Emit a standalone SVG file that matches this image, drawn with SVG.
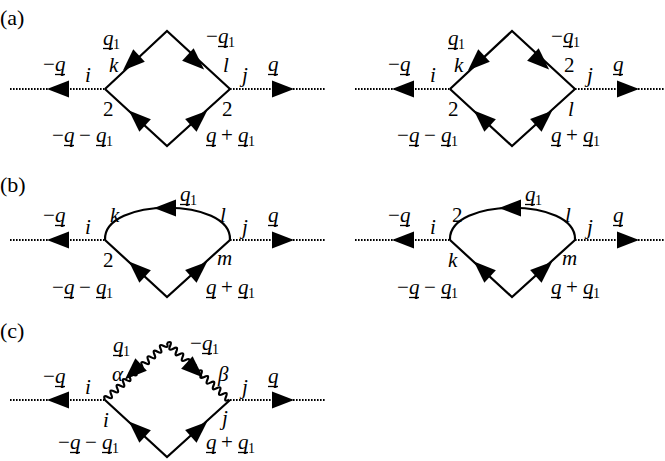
<svg xmlns="http://www.w3.org/2000/svg" width="665" height="461" viewBox="0 0 665 461">
<defs>
<path id="ar" d="M11,0 L-11,-8.5 L-11,8.5 Z" fill="#000"/>
<g id="ext">
<line stroke="#000" stroke-width="2.2" stroke-dasharray="1.6,1.4" x1="10" y1="0" x2="105" y2="0"/>
<line stroke="#000" stroke-width="2.2" stroke-dasharray="1.6,1.4" x1="230" y1="0" x2="325" y2="0"/>
<use href="#ar" transform="translate(58,0) rotate(180)"/>
<use href="#ar" transform="translate(283,0)"/>
</g>
<g id="bot">
<path stroke="#000" stroke-width="2.2" fill="none" d="M105,0 L167,57 L230,0"/>
<use href="#ar" transform="translate(137,29) rotate(222.6)"/>
<use href="#ar" transform="translate(199,29) rotate(-42.1)"/>
</g>
<path id="wave" stroke="#000" stroke-width="2.2" fill="none" d="M0,0 q2.1,-6 4.2,0 t4.2,0 t4.2,0 t4.2,0 t4.2,0 t4.2,0 t4.2,0 t4.2,0 t4.2,0 t4.2,0 t4.2,0 t4.2,0 t4.2,0 t4.2,0 t4.2,0 t4.2,0 t4.2,0 t4.2,0 t4.2,0 t4.2,0"/>
</defs>
<g font-family="Liberation Serif" font-size="22"><text x="0" y="25">(a)</text><text x="0" y="192">(b)</text><text x="0" y="338">(c)</text></g>

<g id="a1">
<use href="#ext" transform="translate(0,89)"/>
<path stroke="#000" stroke-width="2.2" fill="none" d="M105,89 L167,31 L230,89"/>
<use href="#ar" transform="translate(131,63) rotate(136.9)"/>
<use href="#ar" transform="translate(196,62) rotate(42.6)"/>
<use href="#bot" transform="translate(0,89)"/>
<g font-family="Liberation Serif" font-size="21" font-style="italic">
<text x="103" y="45">q</text><text x="113" y="49" font-size="14" font-style="normal">1</text><line x1="103" y1="48.5" x2="113" y2="48.5" stroke="#000" stroke-width="1.3"/>
<text x="206" y="43" font-style="normal">−</text><text x="218" y="43">q</text><text x="228" y="47" font-size="14" font-style="normal">1</text><line x1="218" y1="46.5" x2="228" y2="46.5" stroke="#000" stroke-width="1.3"/>
<text x="109" y="72">k</text><text x="223" y="72">l</text><text x="85" y="82">i</text><text x="242" y="82">j</text>
<text x="43" y="71" font-style="normal">−</text><text x="55" y="71">q</text><line x1="55" y1="74.5" x2="65" y2="74.5" stroke="#000" stroke-width="1.3"/>
<text x="268" y="71">q</text><line x1="268" y1="74.5" x2="278" y2="74.5" stroke="#000" stroke-width="1.3"/>
<text x="103" y="116" font-style="normal">2</text><text x="222" y="116" font-style="normal">2</text>
<text x="52" y="142" font-style="normal">−</text><text x="64" y="142">q</text><text x="79" y="142" font-style="normal">−</text><text x="96" y="142">q</text><text x="106" y="146" font-size="14" font-style="normal">1</text><line x1="64" y1="145.5" x2="74" y2="145.5" stroke="#000" stroke-width="1.3"/><line x1="96" y1="145.5" x2="106" y2="145.5" stroke="#000" stroke-width="1.3"/>
<text x="206" y="142">q</text><text x="221" y="142" font-style="normal">+</text><text x="238" y="142">q</text><text x="248" y="146" font-size="14" font-style="normal">1</text><line x1="206" y1="145.5" x2="216" y2="145.5" stroke="#000" stroke-width="1.3"/><line x1="238" y1="145.5" x2="248" y2="145.5" stroke="#000" stroke-width="1.3"/>
</g>
</g>
<g id="a2" transform="translate(345,0)">
<use href="#ext" transform="translate(0,89)"/>
<path stroke="#000" stroke-width="2.2" fill="none" d="M105,89 L167,31 L230,89"/>
<use href="#ar" transform="translate(131,63) rotate(136.9)"/>
<use href="#ar" transform="translate(196,62) rotate(42.6)"/>
<use href="#bot" transform="translate(0,89)"/>
<g font-family="Liberation Serif" font-size="21" font-style="italic">
<text x="103" y="45">q</text><text x="113" y="49" font-size="14" font-style="normal">1</text><line x1="103" y1="48.5" x2="113" y2="48.5" stroke="#000" stroke-width="1.3"/>
<text x="206" y="43" font-style="normal">−</text><text x="218" y="43">q</text><text x="228" y="47" font-size="14" font-style="normal">1</text><line x1="218" y1="46.5" x2="228" y2="46.5" stroke="#000" stroke-width="1.3"/>
<text x="109" y="72">k</text><text x="219" y="72" font-style="normal">2</text><text x="85" y="82">i</text><text x="242" y="82">j</text>
<text x="43" y="71" font-style="normal">−</text><text x="55" y="71">q</text><line x1="55" y1="74.5" x2="65" y2="74.5" stroke="#000" stroke-width="1.3"/>
<text x="268" y="71">q</text><line x1="268" y1="74.5" x2="278" y2="74.5" stroke="#000" stroke-width="1.3"/>
<text x="103" y="116" font-style="normal">2</text><text x="223" y="116">l</text>
<text x="52" y="142" font-style="normal">−</text><text x="64" y="142">q</text><text x="79" y="142" font-style="normal">−</text><text x="96" y="142">q</text><text x="106" y="146" font-size="14" font-style="normal">1</text><line x1="64" y1="145.5" x2="74" y2="145.5" stroke="#000" stroke-width="1.3"/><line x1="96" y1="145.5" x2="106" y2="145.5" stroke="#000" stroke-width="1.3"/>
<text x="206" y="142">q</text><text x="221" y="142" font-style="normal">+</text><text x="238" y="142">q</text><text x="248" y="146" font-size="14" font-style="normal">1</text><line x1="206" y1="145.5" x2="216" y2="145.5" stroke="#000" stroke-width="1.3"/><line x1="238" y1="145.5" x2="248" y2="145.5" stroke="#000" stroke-width="1.3"/>
</g>
</g>
<g id="b1">
<use href="#ext" transform="translate(0,240)"/>
<path stroke="#000" stroke-width="2.2" fill="none" d="M105,240 C103,197 232,197 230,240"/>
<use href="#ar" transform="translate(165,208) rotate(180)"/>
<use href="#bot" transform="translate(0,240)"/>
<g font-family="Liberation Serif" font-size="21" font-style="italic">
<text x="180" y="201">q</text><text x="190" y="205" font-size="14" font-style="normal">1</text><line x1="180" y1="204.5" x2="190" y2="204.5" stroke="#000" stroke-width="1.3"/>
<text x="110" y="222">k</text><text x="220" y="222">l</text><text x="85" y="234">i</text><text x="242" y="234">j</text>
<text x="43" y="222" font-style="normal">−</text><text x="55" y="222">q</text><line x1="55" y1="225.5" x2="65" y2="225.5" stroke="#000" stroke-width="1.3"/>
<text x="268" y="222">q</text><line x1="268" y1="225.5" x2="278" y2="225.5" stroke="#000" stroke-width="1.3"/>
<text x="103" y="267" font-style="normal">2</text><text x="217" y="265">m</text>
<text x="52" y="294" font-style="normal">−</text><text x="64" y="294">q</text><text x="79" y="294" font-style="normal">−</text><text x="96" y="294">q</text><text x="106" y="298" font-size="14" font-style="normal">1</text><line x1="64" y1="297.5" x2="74" y2="297.5" stroke="#000" stroke-width="1.3"/><line x1="96" y1="297.5" x2="106" y2="297.5" stroke="#000" stroke-width="1.3"/>
<text x="206" y="294">q</text><text x="221" y="294" font-style="normal">+</text><text x="238" y="294">q</text><text x="248" y="298" font-size="14" font-style="normal">1</text><line x1="206" y1="297.5" x2="216" y2="297.5" stroke="#000" stroke-width="1.3"/><line x1="238" y1="297.5" x2="248" y2="297.5" stroke="#000" stroke-width="1.3"/>
</g>
</g>
<g id="b2" transform="translate(345,0)">
<use href="#ext" transform="translate(0,240)"/>
<path stroke="#000" stroke-width="2.2" fill="none" d="M105,240 C103,197 232,197 230,240"/>
<use href="#ar" transform="translate(165,208) rotate(180)"/>
<use href="#bot" transform="translate(0,240)"/>
<g font-family="Liberation Serif" font-size="21" font-style="italic">
<text x="180" y="201">q</text><text x="190" y="205" font-size="14" font-style="normal">1</text><line x1="180" y1="204.5" x2="190" y2="204.5" stroke="#000" stroke-width="1.3"/>
<text x="107" y="222" font-style="normal">2</text><text x="220" y="222">l</text><text x="85" y="234">i</text><text x="242" y="234">j</text>
<text x="43" y="222" font-style="normal">−</text><text x="55" y="222">q</text><line x1="55" y1="225.5" x2="65" y2="225.5" stroke="#000" stroke-width="1.3"/>
<text x="268" y="222">q</text><line x1="268" y1="225.5" x2="278" y2="225.5" stroke="#000" stroke-width="1.3"/>
<text x="103" y="267">k</text><text x="217" y="265">m</text>
<text x="52" y="294" font-style="normal">−</text><text x="64" y="294">q</text><text x="79" y="294" font-style="normal">−</text><text x="96" y="294">q</text><text x="106" y="298" font-size="14" font-style="normal">1</text><line x1="64" y1="297.5" x2="74" y2="297.5" stroke="#000" stroke-width="1.3"/><line x1="96" y1="297.5" x2="106" y2="297.5" stroke="#000" stroke-width="1.3"/>
<text x="206" y="294">q</text><text x="221" y="294" font-style="normal">+</text><text x="238" y="294">q</text><text x="248" y="298" font-size="14" font-style="normal">1</text><line x1="206" y1="297.5" x2="216" y2="297.5" stroke="#000" stroke-width="1.3"/><line x1="238" y1="297.5" x2="248" y2="297.5" stroke="#000" stroke-width="1.3"/>
</g>
</g>
<g id="c1">
<use href="#ext" transform="translate(0,400)"/>
<use href="#wave" transform="translate(105,400) rotate(-42.6)"/>
<use href="#wave" transform="translate(167,343) rotate(42.4)"/>
<use href="#ar" transform="translate(133,372) rotate(137.4)"/>
<use href="#ar" transform="translate(195,370) rotate(42.4)"/>
<use href="#bot" transform="translate(0,400)"/>
<g font-family="Liberation Serif" font-size="21" font-style="italic">
<text x="113" y="352">q</text><text x="123" y="356" font-size="14" font-style="normal">1</text><line x1="113" y1="355.5" x2="123" y2="355.5" stroke="#000" stroke-width="1.3"/>
<text x="190" y="350" font-style="normal">−</text><text x="202" y="350">q</text><text x="212" y="354" font-size="14" font-style="normal">1</text><line x1="202" y1="353.5" x2="212" y2="353.5" stroke="#000" stroke-width="1.3"/>
<text x="112" y="381">α</text><text x="218" y="381">β</text><text x="85" y="394">i</text><text x="242" y="394">j</text>
<text x="43" y="383" font-style="normal">−</text><text x="55" y="383">q</text><line x1="55" y1="386.5" x2="65" y2="386.5" stroke="#000" stroke-width="1.3"/>
<text x="268" y="383">q</text><line x1="268" y1="386.5" x2="278" y2="386.5" stroke="#000" stroke-width="1.3"/>
<text x="103" y="427">i</text><text x="222" y="425">j</text>
<text x="58" y="449" font-style="normal">−</text><text x="70" y="449">q</text><text x="85" y="449" font-style="normal">−</text><text x="102" y="449">q</text><text x="112" y="453" font-size="14" font-style="normal">1</text><line x1="70" y1="452.5" x2="80" y2="452.5" stroke="#000" stroke-width="1.3"/><line x1="102" y1="452.5" x2="112" y2="452.5" stroke="#000" stroke-width="1.3"/>
<text x="206" y="449">q</text><text x="221" y="449" font-style="normal">+</text><text x="238" y="449">q</text><text x="248" y="453" font-size="14" font-style="normal">1</text><line x1="206" y1="452.5" x2="216" y2="452.5" stroke="#000" stroke-width="1.3"/><line x1="238" y1="452.5" x2="248" y2="452.5" stroke="#000" stroke-width="1.3"/>
</g>
</g>
</svg>
